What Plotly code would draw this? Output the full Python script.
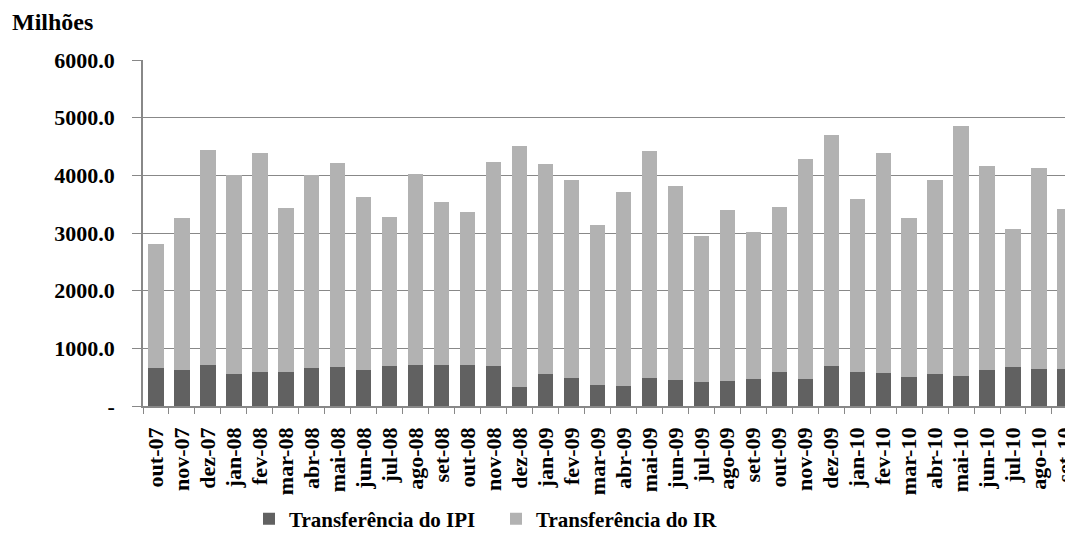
import plotly.graph_objects as go

months = ["out-07", "nov-07", "dez-07", "jan-08", "fev-08", "mar-08", "abr-08", "mai-08",
          "jun-08", "jul-08", "ago-08", "set-08", "out-08", "nov-08", "dez-08", "jan-09",
          "fev-09", "mar-09", "abr-09", "mai-09", "jun-09", "jul-09", "ago-09", "set-09",
          "out-09", "nov-09", "dez-09", "jan-10", "fev-10", "mar-10", "abr-10", "mai-10",
          "jun-10", "jul-10", "ago-10", "set-10"]

ipi = [653, 624, 705, 549, 589, 589, 653, 670, 624, 687, 705, 705,
       705, 687, 329, 549, 485, 364, 347, 485, 445, 410, 427, 462,
       589, 468, 687, 589, 566, 508, 549, 526, 624, 670, 647, 647]

total = [2802, 3258, 4448, 3998, 4391, 3437, 4003, 4206, 3628, 3281, 4021, 3530,
         3356, 4229, 4506, 4188, 3917, 3137, 3709, 4425, 3807, 2946, 3397, 3016,
         3455, 4287, 4691, 3588, 4385, 3258, 3917, 4847, 4165, 3068, 4125, 3414]

ir = [t - p for t, p in zip(total, ipi)]

ytickvals = [0, 1000, 2000, 3000, 4000, 5000, 6000]
yticktext = ["-", "1000.0", "2000.0", "3000.0", "4000.0", "5000.0", "6000.0"]

FONT = "Liberation Serif"

# The page body adds an 8px margin, so the figure is 8px smaller than the window.
W, H = 1065, 550
L, T, B = 135, 52, 152

fig = go.Figure()
fig.add_trace(go.Bar(x=months, y=ipi, name="<b>Transferência do IPI</b>",
                     marker=dict(color="#616161", line=dict(width=0))))
fig.add_trace(go.Bar(x=months, y=ir, name="<b>Transferência do IR</b>",
                     marker=dict(color="#b2b2b2", line=dict(width=0))))

fig.update_layout(
    width=W, height=H,
    barmode="stack", bargap=0.41,
    plot_bgcolor="white", paper_bgcolor="white",
    margin=dict(l=L, r=0, t=T, b=B, pad=0),
    font=dict(family=FONT, size=20, color="black"),
    showlegend=True,
    legend=dict(orientation="h", xref="container", yref="container",
                x=241 / W, xanchor="left", y=1 - 511 / H, yanchor="middle",
                font=dict(family=FONT, size=21, color="black"),
                entrywidth=202, itemwidth=30, traceorder="normal"),
    annotations=[dict(text="<b>Milhões</b>", xref="paper", yref="paper",
                      x=(2 - L) / (W - L), y=(H - B - 14) / (H - B - T),
                      showarrow=False, xanchor="left", yanchor="middle",
                      font=dict(family=FONT, size=24, color="black"))],
)

fig.update_xaxes(
    type="category", range=[-0.5, 35.31], tickangle=-90, automargin=False,
    tickmode="linear", tick0=0, dtick=1,
    tickson="boundaries", ticks="outside", ticklen=6, tickcolor="#888888",
    showline=True, linecolor="#888888", linewidth=1.5, showgrid=False,
    tickfont=dict(family=FONT, size=22, color="black"),
    tickprefix="<b>", ticksuffix="</b>", ticklabelstandoff=11,
)
fig.update_yaxes(
    range=[0, 6000], tickvals=ytickvals, ticktext=["<b>" + t + "</b>" for t in yticktext],
    ticks="outside", ticklen=9, tickcolor="#888888", automargin=False,
    showline=True, linecolor="#888888", linewidth=1.5,
    showgrid=True, gridcolor="#888888", gridwidth=1.3,
    tickfont=dict(family=FONT, size=22, color="black"),
    ticklabelstandoff=13,
)

fig.write_html("out.html")
